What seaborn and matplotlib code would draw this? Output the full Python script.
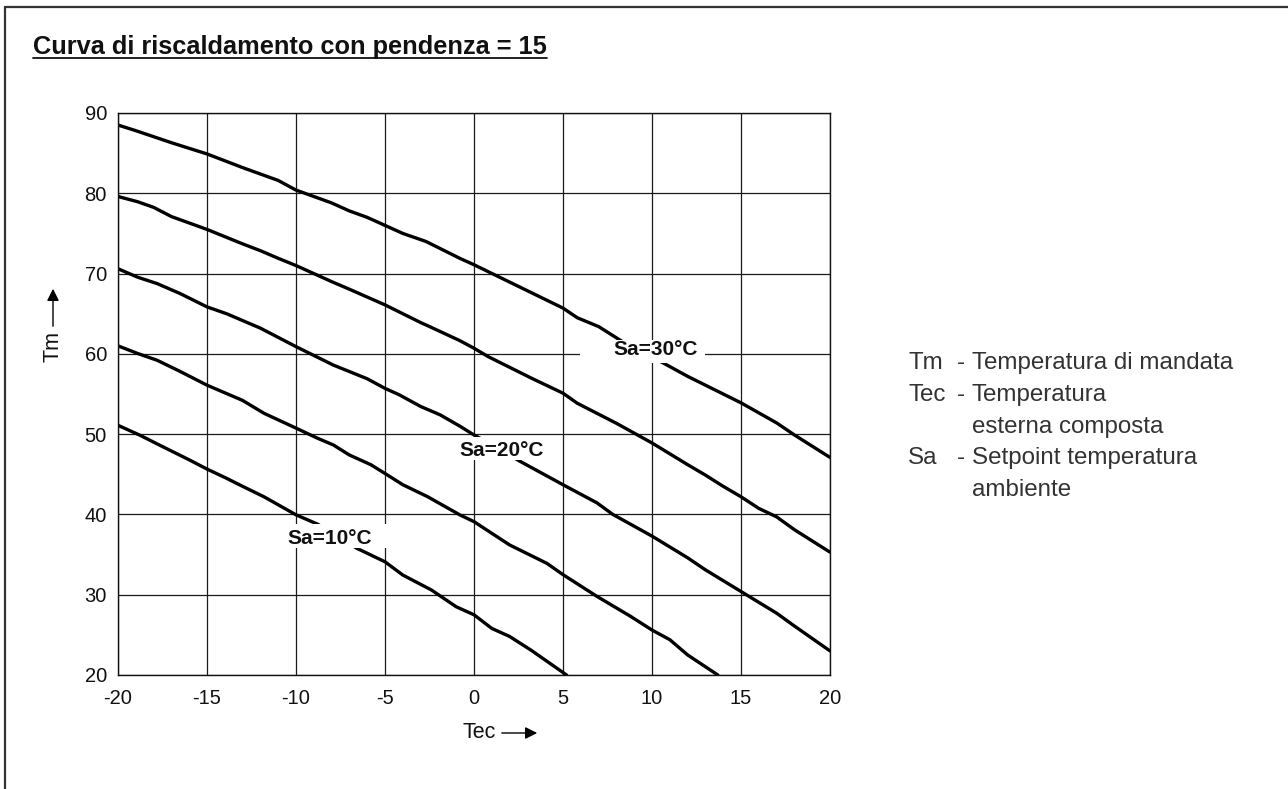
import matplotlib
matplotlib.use("Agg")
import matplotlib.pyplot as plt
from matplotlib.patches import Rectangle
from matplotlib.lines import Line2D
import seaborn as sns
import pandas as pd

# ---------------- data ----------------
sa30_x = [-20, -19, -17, -16, -15, -13, -11, -10, -8, -7, -6, -5, -4, -2.7, -0.8, 0, 2.5, 5, 5.8, 7, 8.5, 10.6, 12, 15, 17, 18, 20]
sa30_y = [88.5, 87.8, 86.3, 85.6, 84.9, 83.2, 81.6, 80.4, 78.8, 77.8, 77.0, 76.0, 75.0, 74.0, 71.9, 71.1, 68.4, 65.7, 64.5, 63.4, 61.3, 58.9, 57.2, 53.9, 51.4, 49.9, 47.1]

sa25_x = [-20, -18.9, -18, -17, -15, -13, -12, -11, -10, -8, -7, -5, -3, -2.5, -0.8, 0, 0.8, 3.2, 5, 5.8, 6.9, 8, 10, 12, 13, 14, 15, 16, 17, 18, 20]
sa25_y = [79.6, 78.95, 78.25, 77.1, 75.5, 73.7, 72.85, 71.9, 71.0, 69.0, 68.05, 66.1, 63.9, 63.4, 61.65, 60.7, 59.65, 57.0, 55.1, 53.85, 52.6, 51.35, 48.9, 46.2, 44.9, 43.5, 42.2, 40.75, 39.7, 38.1, 35.3]

sa20_x = [-20, -18.9, -17.8, -16.5, -15, -13.9, -12, -10, -7.9, -6, -5, -4.2, -3, -1.9, -0.8, 0, 1.3, 2.6, 5, 6.9, 7.8, 10, 12, 13, 15, 17, 18, 20]
sa20_y = [70.6, 69.55, 68.75, 67.5, 65.85, 65.0, 63.2, 60.9, 58.6, 56.9, 55.7, 54.9, 53.45, 52.4, 51.0, 49.9, 48.3, 46.6, 43.7, 41.45, 40.0, 37.3, 34.6, 33.1, 30.4, 27.7, 26.1, 23.0]

sa15_x = [-20, -18.9, -17.8, -16.5, -15, -13, -11.8, -10, -8.8, -7.9, -7, -5.8, -5, -4, -2.6, -0.8, 0, 2, 4.1, 5, 6.9, 8.8, 10, 11, 12, 13.7]
sa15_y = [61.0, 60.05, 59.2, 57.8, 56.1, 54.2, 52.6, 50.75, 49.5, 48.65, 47.4, 46.2, 45.1, 43.7, 42.2, 39.95, 39.1, 36.2, 33.9, 32.5, 29.8, 27.3, 25.6, 24.4, 22.5, 20.0]

sa10_x = [-20, -18.8, -17.5, -16, -15, -13.9, -13, -11.8, -10, -8.8, -7.7, -6.6, -5, -4, -2.4, -1, 0, 1, 2, 3.2, 5.2]
sa10_y = [51.1, 49.9, 48.45, 46.8, 45.65, 44.5, 43.5, 42.2, 39.95, 38.8, 37.4, 35.8, 34.1, 32.45, 30.6, 28.5, 27.5, 25.8, 24.8, 23.1, 20.0]

x_ticks = [-20, -15, -10, -5, 0, 5, 10, 15, 20]
y_ticks = [20, 30, 40, 50, 60, 70, 80, 90]
curve_labels = ["Sa=10°C", "Sa=20°C", "Sa=30°C"]
title_text = "Curva di riscaldamento con pendenza = 15"
legend_keys = ["Tm", "Tec", "", "Sa", ""]
legend_desc = ["Temperatura di mandata", "Temperatura", "esterna composta",
               "Setpoint temperatura", "ambiente"]

series = {
    "sa30": (sa30_x, sa30_y),
    "sa25": (sa25_x, sa25_y),
    "sa20": (sa20_x, sa20_y),
    "sa15": (sa15_x, sa15_y),
    "sa10": (sa10_x, sa10_y),
}
rows = []
for name, (xs, ys) in series.items():
    for i, (xv, yv) in enumerate(zip(xs, ys)):
        rows.append({"curve": name, "order": i, "Tec": xv, "Tm": yv})
df = pd.DataFrame(rows)

# ---------------- style ----------------
sns.set_theme(style="white")
plt.rcParams["font.family"] = ["Liberation Sans", "DejaVu Sans"]
plt.rcParams["axes.unicode_minus"] = False

W, H = 1288, 789
fig = plt.figure(figsize=(W / 100, H / 100), dpi=100)
fig.patch.set_facecolor("white")

def fx(px):
    return px / W

def fy(py):
    return 1 - py / H

ax = fig.add_axes([fx(118), fy(675), fx(830) - fx(118), fy(113) - fy(675)])

sns.lineplot(data=df, x="Tec", y="Tm", hue="curve", units="curve", estimator=None,
             sort=False, palette=["black"] * 5, legend=False, lw=2.4, ax=ax, zorder=2)

ax.set_xlim(-20, 20)
ax.set_ylim(20, 90)
ax.set_xticks(x_ticks)
ax.set_yticks(y_ticks)
ax.set_xticklabels([str(v) for v in x_ticks])
ax.set_yticklabels([str(v) for v in y_ticks])
ax.tick_params(axis="both", length=0, labelsize=14.5, colors="#111111")
ax.tick_params(axis="x", pad=10)
ax.tick_params(axis="y", pad=8)
ax.grid(True, color="#1a1a1a", lw=0.9, zorder=1)
ax.set_axisbelow(True)
for s in ax.spines.values():
    s.set_color("#111111")
    s.set_linewidth(1.0)
ax.set_xlabel("")
ax.set_ylabel("")

# curve labels with white backgrounds
label_boxes = [
    # (label, text x, text y, box x0, box x1, box y0, box y1)
    (curve_labels[0], -8.1, 36.95, -10.9, -4.72, 35.85, 38.75),
    (curve_labels[1], 1.57, 48.0, -1.07, 4.16, 46.8, 49.65),
    (curve_labels[2], 10.22, 60.5, 5.96, 12.98, 58.85, 61.75),
]
for lab, tx, ty, bx0, bx1, by0, by1 in label_boxes:
    ax.add_patch(Rectangle((bx0, by0), bx1 - bx0, by1 - by0, fc="white", ec="none", zorder=3))
    ax.text(tx, ty, lab, ha="center", va="center", fontsize=15, fontweight="bold",
            color="#111111", zorder=4)

# axis labels with arrows
fig.text(fx(53), fy(346), "Tm", rotation=90, ha="center", va="center", fontsize=15.5, color="#111111")
fig.add_artist(matplotlib.patches.FancyArrowPatch((fx(53), fy(329)), (fx(53), fy(286)),
               transform=fig.transFigure, arrowstyle="-|>", mutation_scale=18,
               color="black", lw=1.0))
fig.text(fx(479), fy(733), "Tec", ha="center", va="center", fontsize=15.5, color="#111111")
fig.add_artist(matplotlib.patches.FancyArrowPatch((fx(499), fy(733)), (fx(540), fy(733)),
               transform=fig.transFigure, arrowstyle="-|>", mutation_scale=18,
               color="black", lw=1.0))

# title (underlined)
t = fig.text(fx(33), fy(54), title_text, ha="left", va="baseline", fontsize=18.3,
             fontweight="bold", color="#111111")
fig.canvas.draw()
bb = t.get_window_extent(renderer=fig.canvas.get_renderer())
fig.add_artist(Line2D([bb.x0 / W, bb.x1 / W], [fy(58), fy(58)], transform=fig.transFigure,
                      color="#111111", lw=1.3))

# explanatory legend on the right
line_y = [363, 395, 427, 458, 490]
for key, desc, py in zip(legend_keys, legend_desc, line_y):
    if key:
        fig.text(fx(908), fy(py), key, ha="left", va="center", fontsize=17.4, color="#333333")
        fig.text(fx(957), fy(py), "-", ha="left", va="center", fontsize=17.4, color="#333333")
    fig.text(fx(972), fy(py), desc, ha="left", va="center", fontsize=17.4, color="#333333")

# outer frame (top and left edges)
fig.add_artist(Line2D([fx(5), fx(5)], [fy(7), 0], transform=fig.transFigure, color="#333333", lw=1.6))
fig.add_artist(Line2D([fx(5), 1], [fy(7), fy(7)], transform=fig.transFigure, color="#333333", lw=1.6))

fig.savefig("out.png", dpi=100, facecolor="white")
